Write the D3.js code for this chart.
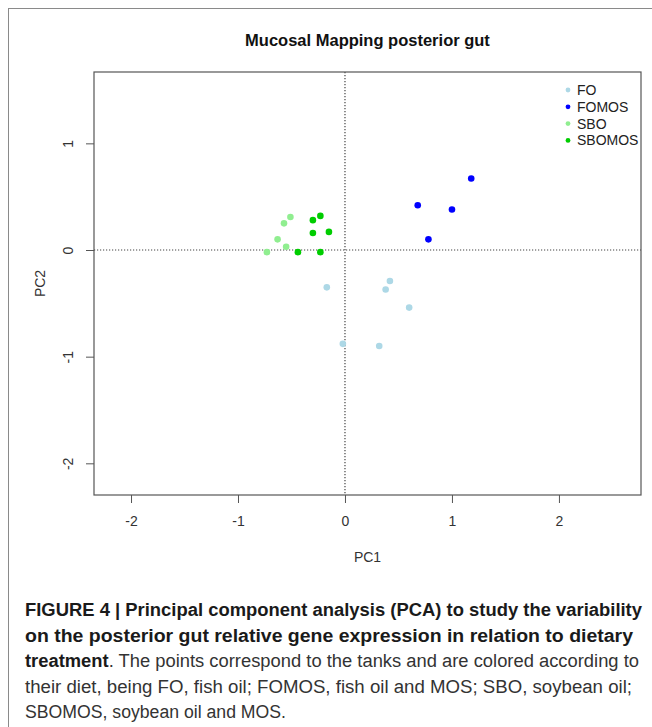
<!DOCTYPE html>
<html>
<head>
<meta charset="utf-8">
<script src="https://cdn.jsdelivr.net/npm/d3@7"></script>
<style>
    body { margin: 0; background: #fff; }
    svg { display: block; font-family: "Liberation Sans", Arial, sans-serif; }
</style>
</head>
<body>
<svg id="chart"></svg>
<script>
// diets, in legend order
const groups = ["FO", "FOMOS", "SBO", "SBOMOS"];
const groupColors = ["#add8e6", "#0000ff", "#90ee90", "#00cd00"];

// one entry per tank
const pointGroup = [
    "FO", "FO", "FO", "FO", "FO", "FO",
    "FOMOS", "FOMOS", "FOMOS", "FOMOS",
    "SBO", "SBO", "SBO", "SBO", "SBO",
    "SBOMOS", "SBOMOS", "SBOMOS", "SBOMOS", "SBOMOS", "SBOMOS"
];
const pc1 = [
    -0.17, 0.42, 0.38, 0.60, -0.02, 0.32,
    1.18, 0.68, 1.00, 0.78,
    -0.51, -0.57, -0.63, -0.55, -0.73,
    -0.23, -0.30, -0.30, -0.15, -0.44, -0.23
];
const pc2 = [
    -0.35, -0.29, -0.37, -0.54, -0.88, -0.90,
    0.67, 0.42, 0.38, 0.10,
    0.31, 0.25, 0.10, 0.03, -0.02,
    0.32, 0.28, 0.16, 0.17, -0.02, -0.02
];

const xTicks = [-2, -1, 0, 1, 2];
const yTicks = [-2, -1, 0, 1];

const title = "Mucosal Mapping posterior gut";
const xTitle = "PC1";
const yTitle = "PC2";

// caption lines: [text, bold] segments
const captionLines = [
    [["FIGURE 4 | Principal component analysis (PCA) to study the variability", true]],
    [["on the posterior gut relative gene expression in relation to dietary", true]],
    [["treatment", true], [". The points correspond to the tanks and are colored according to", false]],
    [["their diet, being FO, fish oil; FOMOS, fish oil and MOS; SBO, soybean oil;", false]],
    [["SBOMOS, soybean oil and MOS.", false]]
];
const captionEnds = [642, 633, 639, 632, 286];

class PcaPlot {
    box = { left: 94, right: 641, top: 72, bottom: 495 }

    constructor(svg, width = 652, height = 727) {
        this.svg = d3.select(svg).attr("width", width).attr("height", height);
        this.width = width;
        this.height = height;
    }

    initialize() {
        this.xScale = d3.scaleLinear().domain([-2.346, 2.767]).range([this.box.left, this.box.right]);
        this.yScale = d3.scaleLinear().domain([-2.297, 1.669]).range([this.box.bottom, this.box.top]);
        this.color = d3.scaleOrdinal().domain(groups).range(groupColors);

        // frame round the whole figure
        this.svg.append("rect")
            .attr("x", 8.5).attr("y", 8.5)
            .attr("width", this.width + 10).attr("height", this.height + 10)
            .attr("fill", "none").attr("stroke", "#8a8a8a");
    }

    update() {
        const b = this.box;
        const x = this.xScale, y = this.yScale;
        const midX = (b.left + b.right) / 2;

        this.svg.append("text")
            .attr("x", midX).attr("y", 46)
            .attr("text-anchor", "middle")
            .style("font-weight", "bold").style("font-size", "16.5px").style("fill", "#111")
            .text(title);

        const xAxis = this.svg.append("g")
            .attr("transform", `translate(0, ${b.bottom})`)
            .call(d3.axisBottom(x).tickValues(xTicks).tickSize(8).tickPadding(13).tickFormat(d => String(d)));
        xAxis.select(".domain").remove();
        xAxis.selectAll("line").attr("stroke", "#555");
        xAxis.selectAll("text").style("font-size", "14px").attr("fill", "#333");

        const yAxis = this.svg.append("g")
            .attr("transform", `translate(${b.left}, 0)`)
            .call(d3.axisLeft(y).tickValues(yTicks).tickSize(8).tickFormat(d => String(d)));
        yAxis.select(".domain").remove();
        yAxis.selectAll("line").attr("stroke", "#555");
        yAxis.selectAll("text")
            .attr("x", 0).attr("dy", 0)
            .attr("text-anchor", "middle")
            .attr("transform", "translate(-21, 0) rotate(-90)")
            .style("font-size", "14px").attr("fill", "#333");
        this.svg.selectAll(".tick text").attr("font-family", null).attr("font-size", null);

        this.svg.append("text")
            .attr("x", midX).attr("y", 562)
            .attr("text-anchor", "middle")
            .style("font-size", "14px").style("fill", "#333")
            .text(xTitle);

        this.svg.append("text")
            .attr("transform", `translate(45, ${(b.top + b.bottom) / 2}) rotate(-90)`)
            .attr("text-anchor", "middle")
            .style("font-size", "14px").style("fill", "#333")
            .text(yTitle);

        // reference lines through the origin
        this.svg.append("line")
            .attr("x1", x(0)).attr("x2", x(0)).attr("y1", b.top).attr("y2", b.bottom)
            .attr("stroke", "#444").attr("stroke-width", 1.2).attr("stroke-dasharray", "1.2,1.8");
        this.svg.append("line")
            .attr("x1", b.left).attr("x2", b.right).attr("y1", y(0)).attr("y2", y(0))
            .attr("stroke", "#444").attr("stroke-width", 1.2).attr("stroke-dasharray", "1.2,1.8");

        this.svg.append("rect")
            .attr("x", b.left).attr("y", b.top)
            .attr("width", b.right - b.left).attr("height", b.bottom - b.top)
            .attr("fill", "none").attr("stroke", "#555").attr("stroke-width", 1.2);

        const points = pc1.map((v, i) => ({ pc1: v, pc2: pc2[i], group: pointGroup[i] }));
        this.svg.append("g").selectAll("circle")
            .data(points)
            .join("circle")
                .attr("cx", d => x(d.pc1))
                .attr("cy", d => y(d.pc2))
                .attr("r", 3.3)
                .attr("fill", d => this.color(d.group));

        const legend = this.svg.append("g").attr("transform", "translate(568, 90)");
        const item = legend.selectAll("g")
            .data(groups)
            .join("g")
                .attr("transform", (d, i) => `translate(0, ${i * 16.8})`);
        item.append("circle").attr("r", 2.4).attr("fill", d => this.color(d));
        item.append("text")
            .attr("x", 9).attr("dy", "0.36em")
            .style("font-size", "14px").style("fill", "#222")
            .text(d => d);

        this.drawCaption();
    }

    drawCaption() {
        const startX = 25;
        captionLines.forEach((segs, i) => {
            const t = this.svg.append("text")
                .attr("x", startX).attr("y", 616 + i * 25.5)
                .style("font-size", "18px").style("fill", "#222");
            segs.forEach(([s, bold]) => {
                t.append("tspan")
                    .style("font-weight", bold ? "bold" : "normal")
                    .style("fill", bold ? "#1a1a1a" : "#333")
                    .text(s);
            });
            t.attr("textLength", captionEnds[i] - startX).attr("lengthAdjust", "spacingAndGlyphs");
        });
    }
}

const chart = new PcaPlot(document.getElementById("chart"));
chart.initialize();
chart.update();
</script>
</body>
</html>
